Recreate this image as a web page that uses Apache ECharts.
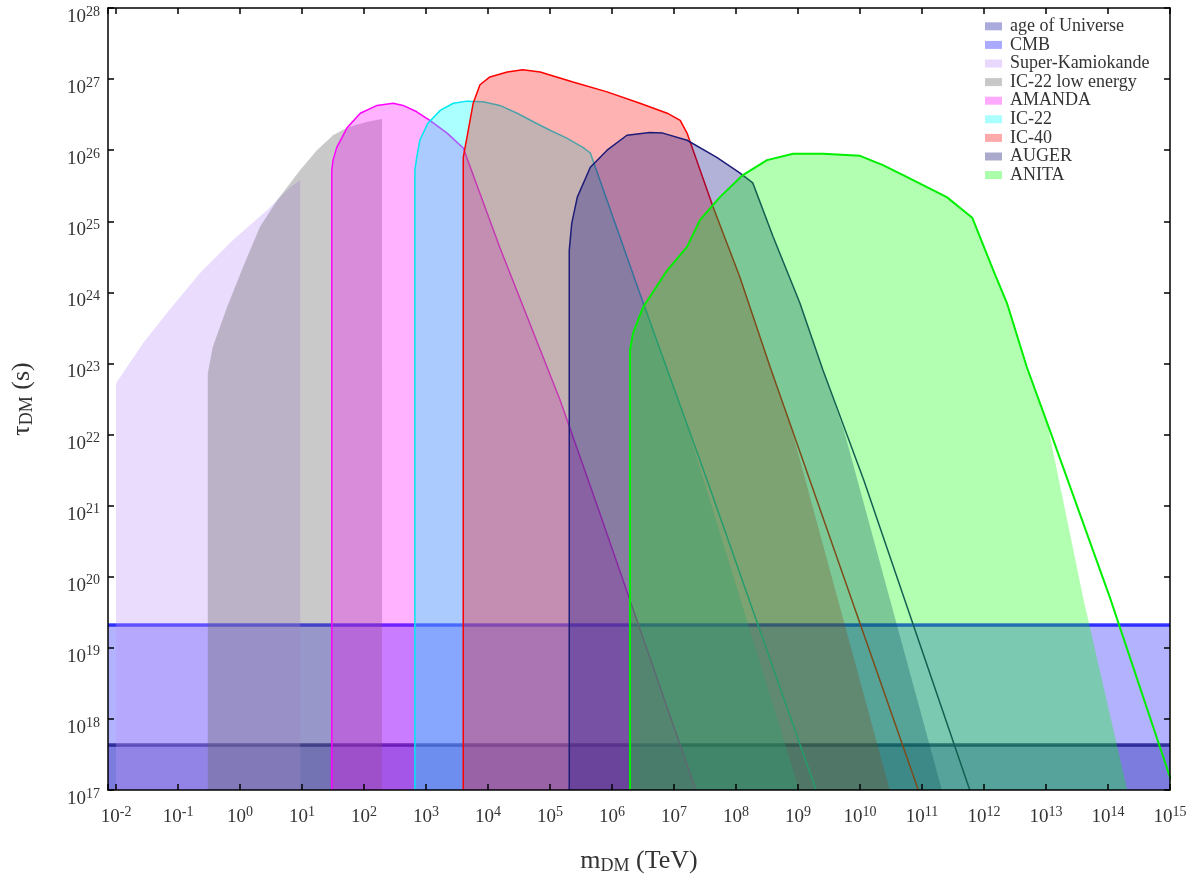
<!DOCTYPE html>
<html>
<head>
<meta charset="utf-8">
<title>DM lifetime bounds</title>
<script src="https://cdn.jsdelivr.net/npm/echarts@6.0.0/dist/echarts.min.js"></script>
<style>
  html, body { margin: 0; padding: 0; background: #fff; }
  #chart { width: 1196px; height: 880px; }
</style>
</head>
<body>
<div id="chart"></div>
<script>
// every point is [log10 m_DM (TeV), log10 tau_DM (s)]
const X_MIN = -2.13, X_MAX = 15;
const Y_MIN = 17, Y_MAX = 28;

// horizontal bounds (log10 tau)
const AGE_TAU = 17.63;
const CMB_TAU = 19.33;

const LEGEND_NAMES = ['age of Universe', 'CMB', 'Super-Kamiokande', 'IC-22 low energy',
  'AMANDA', 'IC-22', 'IC-40', 'AUGER', 'ANITA'];

const superK = [[-2, 17], [-2, 22.72], [-1.56, 23.29], [-1.18, 23.71], [-0.65, 24.27],
  [-0.11, 24.74], [0.44, 25.16], [0.81, 25.48], [0.97, 25.58], [0.97, 17]];

const ic22Low = [[-0.52, 17], [-0.52, 22.86], [-0.44, 23.23], [-0.21, 23.79], [0.05, 24.36],
  [0.32, 24.92], [0.60, 25.30], [0.97, 25.72], [1.24, 26.00], [1.50, 26.21], [1.73, 26.32],
  [2.05, 26.40], [2.29, 26.44], [2.29, 17]];

const amanda = [[1.48, 17], [1.48, 25.72], [1.50, 25.86], [1.56, 26.04], [1.73, 26.32],
  [1.94, 26.52], [2.21, 26.63], [2.47, 26.66], [2.63, 26.63], [2.85, 26.54], [3.06, 26.42],
  [3.34, 26.24], [3.60, 26.03], [4.19, 24.63], [5.16, 22.49], [5.82, 20.85], [7.35, 17]];

const ic22Line = [[2.82, 17], [2.82, 25.72], [2.85, 25.90], [2.90, 26.14], [3.03, 26.38],
  [3.23, 26.56], [3.44, 26.66], [3.66, 26.69], [3.92, 26.68], [4.19, 26.63], [4.47, 26.52],
  [4.73, 26.40], [5.00, 26.28], [5.27, 26.17], [5.53, 26.04], [5.65, 25.96], [6.45, 23.98],
  [7.55, 21.32], [9.29, 17]];
const ic22Fill = [[2.82, 17], [2.82, 25.72], [2.85, 25.90], [2.90, 26.14], [3.03, 26.38],
  [3.23, 26.56], [3.44, 26.66], [3.66, 26.69], [3.92, 26.68], [4.19, 26.63], [4.47, 26.52],
  [4.73, 26.40], [5.00, 26.28], [5.27, 26.17], [5.53, 26.04], [5.65, 25.96], [6.45, 23.98],
  [7.23, 22.06], [9.02, 17]];

const ic40Line = [[3.60, 17], [3.60, 25.90], [3.66, 26.18], [3.76, 26.66], [3.87, 26.92],
  [4.03, 27.03], [4.31, 27.10], [4.56, 27.13], [4.84, 27.10], [5.37, 26.96], [5.92, 26.82],
  [6.45, 26.66], [6.89, 26.52], [7.10, 26.42], [7.21, 26.24], [7.63, 25.20], [8.06, 24.22],
  [8.55, 22.95], [9.19, 21.36], [10.94, 17]];
const ic40Fill = [[3.60, 17], [3.60, 25.90], [3.66, 26.18], [3.76, 26.66], [3.87, 26.92],
  [4.03, 27.03], [4.31, 27.10], [4.56, 27.13], [4.84, 27.10], [5.37, 26.96], [5.92, 26.82],
  [6.45, 26.66], [6.89, 26.52], [7.10, 26.42], [7.21, 26.24], [7.63, 25.20], [8.06, 24.22],
  [8.55, 22.95], [8.90, 22.06], [10.48, 17]];

const augerLine = [[5.31, 17], [5.31, 24.59], [5.35, 24.97], [5.44, 25.34], [5.65, 25.76],
  [5.92, 26.00], [6.24, 26.21], [6.61, 26.25], [6.82, 26.24], [7.21, 26.14], [7.69, 25.90],
  [8.06, 25.68], [8.27, 25.54], [8.60, 24.78], [9.03, 23.85], [9.40, 22.91], [10.06, 21.36],
  [11.77, 17]];
const augerFill = [[5.31, 17], [5.31, 24.59], [5.35, 24.97], [5.44, 25.34], [5.65, 25.76],
  [5.92, 26.00], [6.24, 26.21], [6.61, 26.25], [6.82, 26.24], [7.21, 26.14], [7.69, 25.90],
  [8.06, 25.68], [8.27, 25.54], [8.60, 24.78], [9.03, 23.85], [9.40, 22.91], [9.74, 22.06],
  [11.32, 17]];

const anitaLine = [[6.29, 17], [6.29, 23.19], [6.34, 23.43], [6.50, 23.79], [6.89, 24.31],
  [7.21, 24.64], [7.42, 25.02], [7.74, 25.34], [8.11, 25.65], [8.50, 25.86], [8.92, 25.95],
  [9.40, 25.95], [10.00, 25.92], [10.37, 25.79], [10.76, 25.62], [11.40, 25.34], [11.81, 25.05],
  [12.15, 24.31], [12.37, 23.85], [12.69, 22.95], [13.02, 22.16], [14.03, 19.71], [15.0, 17.18],
  [15.1, 17]];
const anitaFill = [[6.29, 17], [6.29, 23.19], [6.34, 23.43], [6.50, 23.79], [6.89, 24.31],
  [7.21, 24.64], [7.42, 25.02], [7.74, 25.34], [8.11, 25.65], [8.50, 25.86], [8.92, 25.95],
  [9.40, 25.95], [10.00, 25.92], [10.37, 25.79], [10.76, 25.62], [11.40, 25.34], [11.81, 25.05],
  [12.15, 24.31], [12.37, 23.85], [12.69, 22.95], [13.02, 22.16], [13.60, 19.70], [14.31, 17]];

const SERIF = "'Liberation Serif', 'DejaVu Serif', serif";
const TXT = '#333';

// "10^n" tick labels
function powLabel(v) {
  const n = Math.round(v);
  if (Math.abs(v - n) > 1e-6) return '';
  return '{b|10}{s|' + n + '}';
}
const tickRich = {
  b: { fontFamily: SERIF, fontSize: 19, color: TXT },
  s: { fontFamily: SERIF, fontSize: 14, color: TXT, padding: [0, 0, 10, 0] }
};
const nameRich = {
  t: { fontFamily: SERIF, fontSize: 26, color: TXT },
  d: { fontFamily: SERIF, fontSize: 18, color: TXT, padding: [10, 0, 0, 0] }
};

const frameLine = { show: true, onZero: false, lineStyle: { color: '#000', width: 1.5 } };
const frameTick = { show: true, inside: true, length: 6, lineStyle: { color: '#000', width: 1.5 } };

// later experiments are painted over earlier ones, outline included
function fill(name, data, color, z) {
  return {
    name: name, type: 'line', data: data, symbol: 'none', showSymbol: false,
    silent: true, z: z, lineStyle: { width: 0 }, itemStyle: { color: color },
    areaStyle: { origin: 'start', color: color, opacity: 1 }
  };
}
function edge(name, data, color, width, z) {
  return {
    name: name + ' edge', type: 'line', data: data, symbol: 'none', showSymbol: false,
    silent: true, z: z, lineStyle: { width: width, color: color }, itemStyle: { color: color }
  };
}
function band(name, tau, areaColor, lineColor, legendColor) {
  return {
    name: name, type: 'line', data: [], silent: true, z: 1,
    itemStyle: { color: legendColor },
    markArea: {
      silent: true, z: 1, itemStyle: { color: areaColor },
      data: [[{ yAxis: Y_MIN }, { yAxis: tau }]]
    },
    markLine: {
      silent: true, z: 2, symbol: ['none', 'none'], label: { show: false },
      lineStyle: { color: lineColor, width: 3.5, type: 'solid' },
      data: [{ yAxis: tau }]
    }
  };
}

const legendColors = ['#aaaadd', '#aaaaff', '#e8d8fc', '#c8c8c8', '#ffaaff',
  '#aaffff', '#ffaaaa', '#aaaacc', '#aaffaa'];

const chart = echarts.init(document.getElementById('chart'));
chart.setOption({
  animation: false,
  backgroundColor: '#fff',
  grid: { left: 108, right: 26, top: 8, bottom: 90 },
  legend: {
    orient: 'vertical', left: 985, top: 17, padding: 0, z: 30,
    itemWidth: 17, itemHeight: 8, itemGap: 0, icon: 'rect', selectedMode: false,
    textStyle: { fontFamily: SERIF, fontSize: 18, color: TXT, lineHeight: 18.6, padding: [0, 0, 0, 3] },
    data: LEGEND_NAMES.map((n, i) => ({ name: n, itemStyle: { color: legendColors[i], borderWidth: 0 } }))
  },
  xAxis: [
    {
      type: 'value', min: X_MIN, max: X_MAX, splitNumber: 17, position: 'bottom', z: 20,
      axisLine: frameLine, axisTick: frameTick, splitLine: { show: false },
      axisLabel: { formatter: powLabel, margin: 15, fontFamily: SERIF, rich: tickRich },
      name: '{t|m}{d|DM}{t| (TeV)}', nameLocation: 'middle', nameGap: 57,
      nameTextStyle: { rich: nameRich }
    },
    {
      type: 'value', min: X_MIN, max: X_MAX, splitNumber: 17, position: 'top', z: 20,
      axisLine: frameLine, axisTick: frameTick, splitLine: { show: false },
      axisLabel: { show: false }
    }
  ],
  yAxis: [
    {
      type: 'value', min: Y_MIN, max: Y_MAX, interval: 1, position: 'left', z: 20,
      axisLine: frameLine, axisTick: frameTick, splitLine: { show: false },
      axisLabel: { formatter: powLabel, margin: 8, padding: [18, 0, 0, 0], fontFamily: SERIF, rich: tickRich },
      name: '{t|τ}{d|DM}{t| (s)}', nameLocation: 'middle', nameGap: 72,
      nameTextStyle: { rich: nameRich }
    },
    {
      type: 'value', min: Y_MIN, max: Y_MAX, interval: 1, position: 'right', z: 20,
      axisLine: frameLine, axisTick: frameTick, splitLine: { show: false },
      axisLabel: { show: false }
    }
  ],
  series: [
    band('CMB', CMB_TAU, 'rgba(0,0,255,0.3)', 'rgba(0,0,255,0.75)', legendColors[1]),
    band('age of Universe', AGE_TAU, 'rgba(0,0,150,0.3)', 'rgba(0,0,120,0.7)', legendColors[0]),
    fill('Super-Kamiokande', superK, 'rgba(190,150,250,0.33)', 3),
    fill('IC-22 low energy', ic22Low, 'rgba(100,100,100,0.35)', 4),
    fill('AMANDA', amanda, 'rgba(255,0,255,0.3)', 5),
    edge('AMANDA', amanda, '#ff00ff', 1.5, 5),
    fill('IC-22', ic22Fill, 'rgba(0,255,255,0.33)', 6),
    edge('IC-22', ic22Line, '#00e8f0', 1.5, 6),
    fill('IC-40', ic40Fill, 'rgba(255,0,0,0.3)', 7),
    edge('IC-40', ic40Line, '#ff0000', 1.5, 7),
    fill('AUGER', augerFill, 'rgba(0,0,128,0.3)', 8),
    edge('AUGER', augerLine, '#1c1c78', 1.5, 8),
    fill('ANITA', anitaFill, 'rgba(0,255,0,0.3)', 9),
    edge('ANITA', anitaLine, '#00ee00', 2, 9)
  ]
});
</script>
</body>
</html>
